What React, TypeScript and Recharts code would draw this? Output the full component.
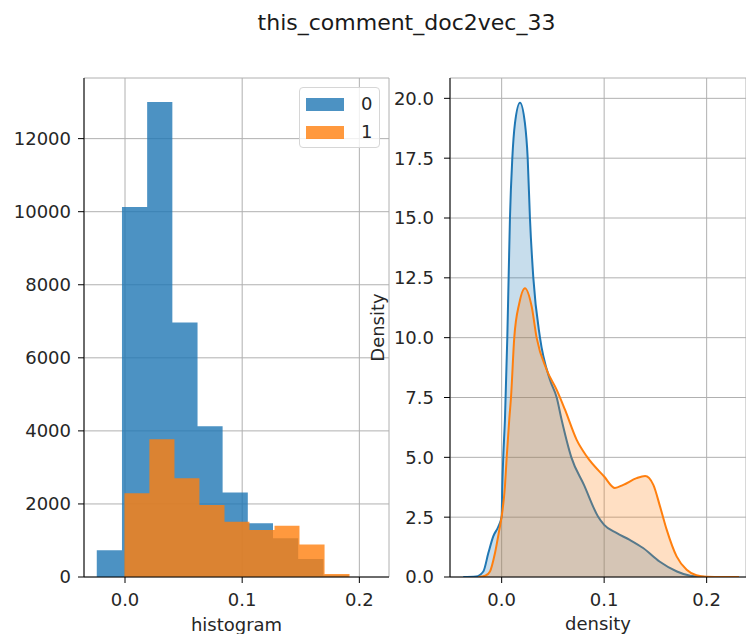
import React from 'react';
import { ComposedChart, Area, XAxis, YAxis, CartesianGrid, Label } from 'recharts';

const title = 'this_comment_doc2vec_33';
const seriesNames = ['0', '1'];
const seriesColors = ['#1f77b4', '#ff7f0e'];

// left panel: histogram bins (edges + counts)
const histEdges0 = [-0.0241, -0.0026, 0.0189, 0.0404, 0.0619, 0.0833, 0.1048, 0.1263, 0.1478, 0.1693, 0.1908];
const histCounts0 = [730, 10130, 13000, 6970, 4130, 2310, 1470, 1060, 490, 40];
const histEdges1 = [-0.0005, 0.0208, 0.0422, 0.0635, 0.0849, 0.1062, 0.1276, 0.1489, 0.1703, 0.1916];
const histCounts1 = [2290, 3770, 2700, 1970, 1510, 1290, 1400, 890, 80];

const histXTicks = [0, 0.1, 0.2];
const histYTicks = [0, 2000, 4000, 6000, 8000, 10000, 12000];

// right panel: kde curves
const kdeX0 = [-0.0375, -0.025, -0.0179, -0.013, -0.0082, -0.0033, 0.0, 0.0006, 0.0016, 0.0032, 0.0055, 0.0068, 0.0081, 0.0104, 0.013, 0.0179, 0.0227, 0.0254, 0.0276, 0.0309, 0.0374, 0.0471, 0.0537, 0.0585, 0.068, 0.0803, 0.094, 0.1, 0.112, 0.125, 0.138, 0.154, 0.171, 0.184, 0.195, 0.203];
const kdeY0 = [0, 0.02, 0.23, 1.0, 1.7, 2.1, 2.53, 3.78, 5.05, 6.57, 10.0, 12.5, 15.0, 17.5, 18.96, 19.82, 18.96, 17.5, 15.0, 12.5, 10.0, 8.24, 7.5, 6.57, 5.0, 3.85, 2.53, 2.18, 1.84, 1.55, 1.21, 0.65, 0.23, 0.05, 0.01, 0];
const kdeX1 = [-0.0228, -0.016, -0.0114, -0.0065, -0.0023, 0.0, 0.0032, 0.0049, 0.0074, 0.0091, 0.0123, 0.0172, 0.0227, 0.0293, 0.0341, 0.0439, 0.0537, 0.0618, 0.0732, 0.083, 0.1, 0.1105, 0.1187, 0.1317, 0.14, 0.148, 0.1545, 0.161, 0.1707, 0.1805, 0.19, 0.2, 0.215, 0.2316];
const kdeY1 = [0, 0.05, 0.23, 1.0, 1.97, 2.53, 3.78, 5.0, 6.57, 7.5, 10.0, 11.44, 12.07, 11.3, 10.0, 8.66, 7.82, 6.99, 5.73, 5.04, 4.2, 3.72, 3.85, 4.13, 4.22, 3.85, 2.95, 1.98, 0.86, 0.3, 0.07, 0.01, 0, 0];

const kdeXTicks = [0, 0.1, 0.2];
const kdeYTicks = [0, 2.5, 5, 7.5, 10, 12.5, 15, 17.5, 20];

// step rows: value of a bin at its left edge, 0 at the last edge, null elsewhere
function stepRows() {
  const xs = Array.from(new Set([...histEdges0, ...histEdges1])).sort((a, b) => a - b);
  const at = (edges: number[], counts: number[], x: number) => {
    const i = edges.indexOf(x);
    if (i < 0) return null;
    return i < counts.length ? counts[i] : 0;
  };
  return xs.map((x) => ({ x, h0: at(histEdges0, histCounts0, x), h1: at(histEdges1, histCounts1, x) }));
}

function curveRows() {
  const rows = new Map<number, { x: number; d0: number | null; d1: number | null }>();
  kdeX0.forEach((x, i) => rows.set(x, { x, d0: kdeY0[i], d1: null }));
  kdeX1.forEach((x, i) => {
    const r = rows.get(x) ?? { x, d0: null, d1: null };
    r.d1 = kdeY1[i];
    rows.set(x, r);
  });
  return Array.from(rows.values()).sort((a, b) => a.x - b.x);
}

const histData = stepRows();
const kdeData = curveRows();

const font = 'DejaVu Sans';
const tickStyle = { fontSize: 18, fill: '#262626', fontFamily: font };
const labelStyle = { fontSize: 18, fill: '#262626', fontFamily: font };
const gridColor = '#b0b0b0';

const histXDomain: [number, number] = [-0.035, 0.2253];
const kdeXDomain: [number, number] = [-0.0504, 0.2384];

const DensityLabel = (props: any) => {
  const vb = props.viewBox || { x: 0, y: 0, height: 0 };
  const cy = vb.y + vb.height / 2;
  return (
    <text
      transform={`translate(${vb.x + 24}, ${cy}) rotate(-90)`}
      textAnchor="middle"
      style={labelStyle}
    >
      Density
    </text>
  );
};

export default function App() {
  return (
    <div style={{ position: 'absolute', left: 0, top: 0, width: 746, height: 634, overflow: 'hidden', background: '#fff', fontFamily: font }}>
      <div style={{ position: 'absolute', left: 0, top: 10, width: 813, textAlign: 'center', fontSize: 22, lineHeight: '26px', color: '#1a1a1a' }}>
        {title}
      </div>

      <div style={{ position: 'absolute', left: 0, top: 0 }}>
        <ComposedChart width={400} height={634} data={histData} margin={{ top: 78, right: 11, bottom: 0, left: 0 }}>
          <CartesianGrid stroke={gridColor} strokeWidth={1} />
          <Area dataKey="h0" type="stepAfter" fill={seriesColors[0]} fillOpacity={0.8} stroke="none" connectNulls dot={false} activeDot={false} isAnimationActive={false} />
          <Area dataKey="h1" type="stepAfter" fill={seriesColors[1]} fillOpacity={0.8} stroke="none" connectNulls dot={false} activeDot={false} isAnimationActive={false} />
          <XAxis dataKey="x" type="number" domain={histXDomain} allowDataOverflow ticks={histXTicks} interval={0}
            tickFormatter={(v: number) => v.toFixed(1)} height={57} tickSize={6} tickMargin={10} tick={tickStyle} stroke="#000">
            <Label value="histogram" position="insideBottom" offset={3} style={labelStyle} />
          </XAxis>
          <XAxis xAxisId="top" orientation="top" type="number" domain={histXDomain} allowDataOverflow height={0} tick={false} tickLine={false} stroke="#000" />
          <YAxis type="number" domain={[0, 13660]} allowDataOverflow ticks={histYTicks} interval={0} width={84}
            tickSize={6} tickMargin={7} tick={tickStyle} stroke="#000" />
          <YAxis yAxisId="right" orientation="right" width={0} tick={false} tickLine={false} stroke="#000" />
        </ComposedChart>
      </div>

      <div style={{ position: 'absolute', left: 360, top: 0 }}>
        <ComposedChart width={386} height={634} data={kdeData} margin={{ top: 78, right: 0, bottom: 0, left: 0 }}>
          <CartesianGrid stroke={gridColor} strokeWidth={1} />
          <Area dataKey="d0" type="monotone" fill={seriesColors[0]} fillOpacity={0.25} stroke={seriesColors[0]} strokeWidth={2} connectNulls dot={false} activeDot={false} isAnimationActive={false} />
          <Area dataKey="d1" type="monotone" fill={seriesColors[1]} fillOpacity={0.25} stroke={seriesColors[1]} strokeWidth={2} connectNulls dot={false} activeDot={false} isAnimationActive={false} />
          <XAxis dataKey="x" type="number" domain={kdeXDomain} allowDataOverflow ticks={kdeXTicks} interval={0}
            tickFormatter={(v: number) => v.toFixed(1)} height={57} tickSize={6} tickMargin={10} tick={tickStyle} stroke="#000">
            <Label value="density" position="insideBottom" offset={4} style={labelStyle} />
          </XAxis>
          <XAxis xAxisId="top" orientation="top" type="number" domain={kdeXDomain} allowDataOverflow height={0} tick={false} tickLine={false} stroke="#000" />
          <YAxis type="number" domain={[0, 20.85]} allowDataOverflow ticks={kdeYTicks} interval={0} width={90}
            tickFormatter={(v: number) => v.toFixed(1)} tickSize={6} tickMargin={10} tick={tickStyle} stroke="#000">
            <Label content={DensityLabel} />
          </YAxis>
        </ComposedChart>
      </div>

      <div style={{ position: 'absolute', left: 299, top: 87, width: 79, height: 59, border: '1px solid #d6d6d6', borderRadius: 4, background: 'rgba(255,255,255,0.8)' }}>
        {seriesNames.map((name, i) => (
          <div key={name} style={{ position: 'absolute', left: 6, top: 9 + i * 28, display: 'flex', alignItems: 'center' }}>
            <div style={{ width: 38, height: 13, background: seriesColors[i], opacity: 0.8 }} />
            <span style={{ marginLeft: 17, fontSize: 18, lineHeight: '14px', color: '#262626' }}>{name}</span>
          </div>
        ))}
      </div>
    </div>
  );
}
